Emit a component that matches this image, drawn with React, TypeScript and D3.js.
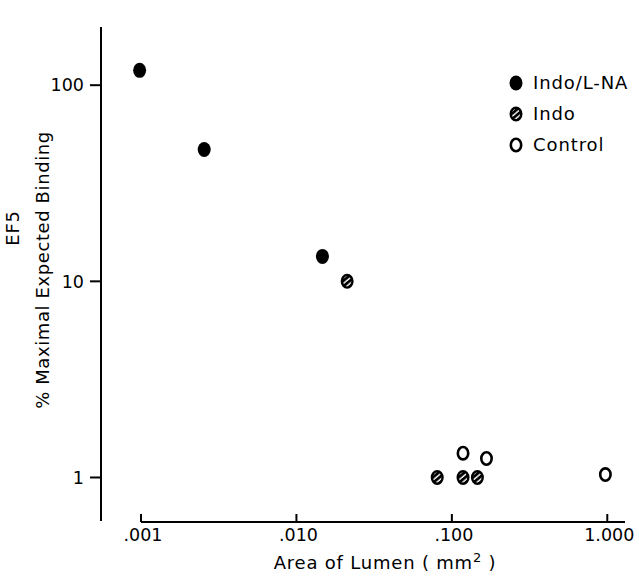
import React from "react";
import * as d3 from "d3";

const seriesNames = ["Indo/L-NA", "Indo", "Control"];
const indoLnaX = [0.00098, 0.00255, 0.0147];
const indoLnaY = [119, 47, 13.4];
const indoX = [0.0212, 0.0805, 0.118, 0.146];
const indoY = [10, 1.0, 1.0, 1.0];
const controlX = [0.118, 0.167, 0.972];
const controlY = [1.33, 1.25, 1.035];
const xTicks = [0.001, 0.01, 0.1, 1];
const xTickLabels = [".001", ".010", ".100", "1.000"];
const yTicks = [1, 10, 100];
const yTickLabels = ["1", "10", "100"];

const W = 639;
const H = 584;
const FONT = "'DejaVu Sans', Verdana, sans-serif";

function Marker({ kind }: { kind: number }) {
  if (kind === 0) return <ellipse rx={6.5} ry={7.5} fill="#000" />;
  if (kind === 1)
    return <ellipse rx={5.3} ry={6.3} fill="url(#hatch)" stroke="#000" strokeWidth={2.4} />;
  return <ellipse rx={5.2} ry={6.2} fill="none" stroke="#000" strokeWidth={2.6} />;
}

export default function App() {
  const x = d3.scaleLog().domain([0.001, 1.3]).range([141, 625]);
  const y = d3.scaleLog().domain([0.6, 198]).range([521, 27]);
  const series = [
    { xs: indoLnaX, ys: indoLnaY },
    { xs: indoX, ys: indoY },
    { xs: controlX, ys: controlY },
  ];
  const xAxisY = 522;
  const yAxisX = 101;
  return (
    <svg
      width={W}
      height={H}
      style={{ position: "absolute", left: 0, top: 0, background: "#fff" }}
      fontFamily={FONT}
    >
      <defs>
        <pattern
          id="hatch"
          patternUnits="userSpaceOnUse"
          width={4.2}
          height={4.2}
          patternTransform="rotate(-40)"
        >
          <rect width={4.2} height={4.2} fill="#fff" />
          <rect width={4.2} height={2.8} fill="#000" />
        </pattern>
      </defs>
      <rect width={W} height={H} fill="#fff" />
      {/* y axis */}
      <line x1={yAxisX} x2={yAxisX} y1={y.range()[1]} y2={y.range()[0]} stroke="#000" strokeWidth={2} />
      {yTicks.map((t, i) => (
        <g key={t}>
          <line x1={yAxisX - 11} x2={yAxisX} y1={y(t)} y2={y(t)} stroke="#000" strokeWidth={2} />
          <text x={yAxisX - 17} y={y(t)} dy="0.36em" textAnchor="end" fontSize={17.5}>
            {yTickLabels[i]}
          </text>
        </g>
      ))}
      {/* x axis */}
      <line x1={x(0.001)} x2={x.range()[1]} y1={xAxisY} y2={xAxisY} stroke="#000" strokeWidth={2} />
      {xTicks.map((t, i) => (
        <g key={t}>
          <line x1={x(t)} x2={x(t)} y1={xAxisY - 8} y2={xAxisY} stroke="#000" strokeWidth={2} />
          <text x={x(t) + 2} y={541} textAnchor="middle" fontSize={17.5}>
            {xTickLabels[i]}
          </text>
        </g>
      ))}
      <text x={385} y={569} textAnchor="middle" fontSize={18} letterSpacing={0.8}>
        Area of Lumen ( mm
        <tspan dy={-7} fontSize={13}>2</tspan>
        <tspan dy={7}> )</tspan>
      </text>
      <text transform="translate(19,228) rotate(-90)" textAnchor="middle" fontSize={18} letterSpacing={0.8}>
        EF5
      </text>
      <text transform="translate(49,270) rotate(-90)" textAnchor="middle" fontSize={18} letterSpacing={0.6}>
        % Maximal Expected Binding
      </text>
      {/* points */}
      {series.map((s, k) =>
        s.xs.map((xv, i) => (
          <g key={`${k}-${i}`} transform={`translate(${x(xv)},${y(s.ys[i])})`}>
            <Marker kind={k} />
          </g>
        ))
      )}
      {/* legend */}
      {seriesNames.map((n, k) => (
        <g key={n} transform={`translate(516,${83 + k * 31})`}>
          <Marker kind={k} />
          <text x={17} y={0} dy="0.36em" fontSize={18} letterSpacing={0.9}>
            {n}
          </text>
        </g>
      ))}
    </svg>
  );
}
